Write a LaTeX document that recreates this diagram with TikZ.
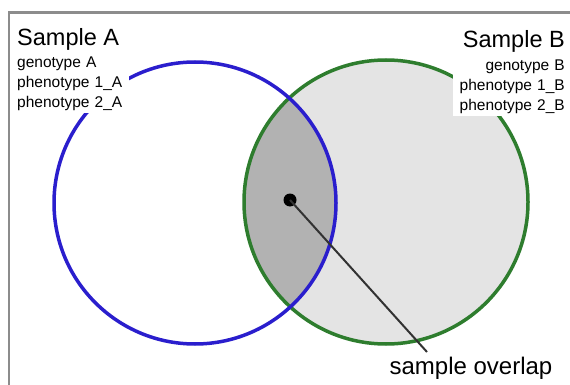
\documentclass[tikz,border=0pt]{standalone}
\usepackage{fontspec}
\setmainfont{Liberation Sans}
\definecolor{blueA}{RGB}{42,30,205}
\definecolor{greenB}{RGB}{46,125,46}
\definecolor{lightfill}{RGB}{228,228,228}
\definecolor{overlapfill}{RGB}{178,178,178}
\definecolor{framegray}{RGB}{140,140,140}
\definecolor{pointer}{RGB}{50,50,50}
\tikzset{
  frameline/.style={draw=framegray, line width=2.5pt},
  ringA/.style={circle, draw=blueA, line width=3.5pt, minimum size=282pt, inner sep=0pt},
  ringB/.style={circle, draw=greenB, line width=3.5pt, minimum size=284pt, inner sep=0pt},
  bigtext/.style={font=\fontsize{23.5}{28}\selectfont, inner sep=0pt},
  smallline/.style={font=\fontsize{15.5}{20}\selectfont, fill=white, inner xsep=2pt, inner ysep=0pt,
                    text height=14.5pt, text depth=5.5pt, text width=110pt},
  dotnode/.style={circle, fill=black, minimum size=13pt, inner sep=0pt},
  pointerline/.style={draw=pointer, line width=2pt},
}
\begin{document}
\begin{tikzpicture}[x=1pt,y=-1pt]
\useasboundingbox (0,0) rectangle (570,385);
\fill[white] (0,0) rectangle (570,385);
% frame (top and left only)
\draw[frameline] (9,385) -- (9,12.5) -- (570,12.5);
% fills
\fill[lightfill] (386,202) circle[radius=142pt];
\begin{scope}
  \clip (195,203) circle[radius=141pt];
  \fill[overlapfill] (386,202) circle[radius=142pt];
\end{scope}
% rings
\node[ringB] (B) at (386,202) {};
\node[ringA] (A) at (195,203) {};
% labels
\node[bigtext, anchor=base west] (titleA) at (17,46) {Sample A};
\node[smallline, align=left, anchor=base west] (gA) at (15,68) {genotype A};
\node[smallline, align=left, anchor=base west] (p1A) at (15,88) {phenotype 1\_A};
\node[smallline, align=left, anchor=base west] (p2A) at (15,108) {phenotype 2\_A};
\node[bigtext, anchor=base east] (titleB) at (565,48) {Sample B};
\node[smallline, align=right, anchor=base east] (gB) at (567,70.5) {genotype B};
\node[smallline, align=right, anchor=base east] (p1B) at (567,90.5) {phenotype 1\_B};
\node[smallline, align=right, anchor=base east] (p2B) at (567,110.5) {phenotype 2\_B};
% pointer
\node[bigtext, font=\fontsize{24}{28}\selectfont, anchor=base] (ov) at (471,374) {sample overlap};
\coordinate (tip) at (427,352);
\node[dotnode] (dot) at (290,200) {};
\draw[pointerline] (dot.center) -- (tip);
\end{tikzpicture}
\end{document}
